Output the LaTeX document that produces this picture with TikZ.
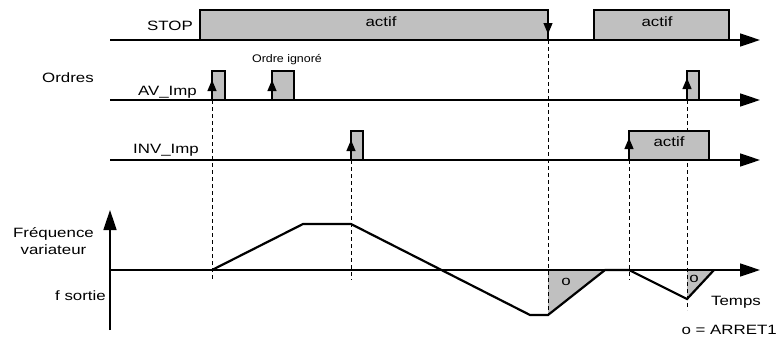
\documentclass[tikz,border=0pt]{standalone}
\usepackage{fontspec}
\setmainfont{Liberation Sans}
\usetikzlibrary{arrows.meta}
\definecolor{boxgray}{RGB}{192,192,192}
\newcommand{\wtxt}[1]{\scalebox{1.25}[1]{#1}}
\begin{document}
\begin{tikzpicture}[x=1pt,y=-1pt,
  axis/.style={line width=1.6pt,-{Triangle[length=20pt,width=13pt]}},
  edge/.style={line width=1.2pt},
  trig/.style={line width=1.2pt,-{Triangle[length=11pt,width=9pt]}},
  guide/.style={line width=0.7pt,dash pattern=on 4pt off 3pt},
  curve/.style={line width=2.2pt,line join=miter},
  lbl/.style={font=\fontsize{13.5}{16}\selectfont,inner sep=0pt,anchor=base},
  small/.style={font=\fontsize{11}{13}\selectfont,inner sep=0pt,anchor=base},
]
\useasboundingbox (0,0) rectangle (778,343);

% ---------- coordinates ----------
% STOP
\coordinate (s0) at (110,40);  \coordinate (s1) at (760,40);
\coordinate (sa) at (200,40);  \coordinate (sb) at (548,10);
\coordinate (sbb) at (548,40);
\coordinate (sc) at (594,40);  \coordinate (sd) at (729,10);
% AV_Imp
\coordinate (a0) at (110,100); \coordinate (a1) at (760,100);
\coordinate (p1a) at (212,100); \coordinate (p1b) at (225,71);
\coordinate (p2a) at (272,100); \coordinate (p2b) at (294,71);
\coordinate (p3a) at (687,100); \coordinate (p3b) at (699,71);
% INV_Imp
\coordinate (i0) at (110,160); \coordinate (i1) at (760,160);
\coordinate (q1a) at (351,160); \coordinate (q1b) at (363,131);
\coordinate (q2a) at (629,160); \coordinate (q2b) at (709,131);
% frequency
\coordinate (h0) at (110,270); \coordinate (h1) at (760,270);
\coordinate (v0) at (110,330); \coordinate (v1) at (110,210);
\coordinate (f0) at (212,270); \coordinate (f1) at (303,224);
\coordinate (f2) at (351,224); \coordinate (f3) at (530,315);
\coordinate (f4) at (548,315); \coordinate (f5) at (605,270);
\coordinate (f6) at (629,270); \coordinate (f7) at (687,299);
\coordinate (f8) at (714,270);
\coordinate (t1) at (548,270); \coordinate (t2) at (687,270);
% guide ends
\coordinate (g1) at (212,280); \coordinate (g2) at (351,280);
\coordinate (g3) at (548,315); \coordinate (g4) at (629,280);
\coordinate (g5) at (687,310);

% ---------- grey fills ----------
\fill[boxgray] (sa) rectangle (sb);
\fill[boxgray] (sc) rectangle (sd);
\fill[boxgray] (p1a) rectangle (p1b);
\fill[boxgray] (p2a) rectangle (p2b);
\fill[boxgray] (p3a) rectangle (p3b);
\fill[boxgray] (q1a) rectangle (q1b);
\fill[boxgray] (t1) -- (f5) -- (f4) -- cycle;
\fill[boxgray] (t2) -- (f8) -- (f7) -- cycle;

% ---------- guides ----------
\draw[guide] (p1a) -- (g1);
\draw[guide] (q1a) -- (g2);
\draw[guide] (sbb) -- (g3);
\draw[guide] (q2a) -- (g4);
\draw[guide] (p3a) -- (g5);

% INV actif box covers the guide
\fill[boxgray] (q2a) rectangle (q2b);

% ---------- box outlines ----------
\draw[edge] (sa) |- (sb) -- (sbb);
\draw[edge] (sc) |- (sd) -- (sd |- sc);
\draw[edge] (p1a) |- (p1b) -- (p1b |- p1a);
\draw[edge] (p2a) |- (p2b) -- (p2b |- p2a);
\draw[edge] (p3a) |- (p3b) -- (p3b |- p3a);
\draw[edge] (q1a) |- (q1b) -- (q1b |- q1a);
\draw[edge] (q2a) |- (q2b) -- (q2b |- q2a);

% ---------- trigger arrows ----------
\coordinate (k0) at (548,34);
\draw[trig] (sb) -- (k0);
\coordinate (k1) at (212,80);  \draw[trig] (p1a) -- (k1);
\coordinate (k2) at (272,80);  \draw[trig] (p2a) -- (k2);
\coordinate (k3) at (687,78);  \draw[trig] (p3a) -- (k3);
\coordinate (k4) at (351,140); \draw[trig] (q1a) -- (k4);
\coordinate (k5) at (629,138); \draw[trig] (q2a) -- (k5);

% ---------- axes ----------
\draw[axis] (s0) -- (s1);
\draw[axis] (a0) -- (a1);
\draw[axis] (i0) -- (i1);
\draw[axis] (h0) -- (h1);
\draw[axis] (v0) -- (v1);

% ---------- frequency curve ----------
\draw[curve] (f0) -- (f1) -- (f2) -- (f3) -- (f4) -- (f5) -- (f6) -- (f7) -- (f8);

% ---------- texts ----------
\node[lbl,anchor=base east] (tstop) at (193,30.5) {\wtxt{STOP}};
\node[lbl] (tact1) at (381,26.5) {\wtxt{actif}};
\node[lbl] (tact2) at (657,26.5) {\wtxt{actif}};
\node[lbl] (tact3) at (669,146.5) {\wtxt{actif}};
\node[lbl,anchor=base west] (tord) at (42,82.5) {\wtxt{Ordres}};
\node[small] (tign) at (287,62) {\scalebox{1.13}[1]{Ordre ignoré}};
\node[lbl,anchor=base east] (tav) at (197,95) {\wtxt{AV\_Imp}};
\node[lbl,anchor=base east] (tinv) at (199,153.3) {\wtxt{INV\_Imp}};
\node[lbl] (tfr1) at (53.5,237.7) {\wtxt{Fréquence}};
\node[lbl] (tfr2) at (53.5,254.3) {\wtxt{variateur}};
\node[lbl,anchor=base east] (tfs) at (106,300) {\wtxt{f sortie}};
\node[lbl] (tto1) at (566,285) {\wtxt{o}};
\node[lbl] (tto2) at (694,282) {\wtxt{o}};
\node[lbl] (ttemps) at (736,305) {\wtxt{Temps}};
\node[lbl,anchor=base east] (tarret) at (777,334) {\wtxt{o = ARRET1}};
\end{tikzpicture}
\end{document}
